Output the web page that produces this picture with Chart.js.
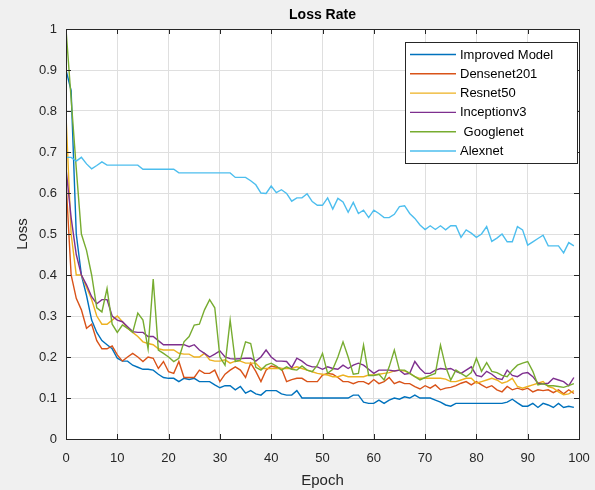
<!DOCTYPE html>
<html>
<head>
<meta charset="utf-8">
<script src="https://cdn.jsdelivr.net/npm/chart.js@4/dist/chart.umd.min.js"></script>
<style>
html,body{margin:0;padding:0;background:#f0f0f0;}
canvas{display:block;}
</style>
</head>
<body>
<canvas id="c" width="595" height="490"></canvas>
<script>
const epochs = Array.from({length: 100}, (_, i) => i);
const seriesNames = ['Improved Model', 'Densenet201', 'Resnet50', 'Inceptionv3', ' Googlenet', 'Alexnet'];
const seriesColors = ['#0072BD', '#D95319', '#EDB120', '#7E2F8E', '#77AC30', '#4DBEEE'];

const improvedModel = [
0.90,0.85,0.50,0.40,0.35,0.29,0.26,0.24,0.23,0.22,
0.197,0.19,0.19,0.18,0.175,0.17,0.17,0.168,0.158,0.15,
0.148,0.148,0.14,0.148,0.145,0.148,0.14,0.14,0.14,0.132,
0.125,0.13,0.13,0.12,0.128,0.112,0.118,0.11,0.107,0.118,
0.118,0.118,0.11,0.107,0.107,0.118,0.10,0.10,0.10,0.10,
0.10,0.10,0.10,0.10,0.10,0.10,0.107,0.107,0.09,0.087,
0.087,0.095,0.087,0.095,0.10,0.097,0.103,0.10,0.107,0.10,
0.10,0.10,0.095,0.09,0.083,0.08,0.087,0.087,0.087,0.087,
0.087,0.087,0.087,0.087,0.087,0.087,0.09,0.097,0.088,0.08,
0.08,0.087,0.077,0.087,0.083,0.077,0.087,0.077,0.08,0.077];

const densenet201 = [
0.63,0.40,0.343,0.315,0.27,0.28,0.24,0.22,0.22,0.227,
0.205,0.19,0.20,0.209,0.20,0.189,0.20,0.197,0.172,0.189,
0.164,0.16,0.189,0.15,0.15,0.15,0.168,0.16,0.16,0.168,
0.14,0.158,0.168,0.176,0.168,0.15,0.185,0.165,0.14,0.168,
0.178,0.175,0.172,0.14,0.145,0.148,0.148,0.14,0.14,0.14,
0.156,0.16,0.158,0.15,0.14,0.14,0.135,0.14,0.14,0.134,
0.145,0.135,0.14,0.15,0.135,0.14,0.135,0.135,0.128,0.122,
0.13,0.124,0.132,0.12,0.124,0.126,0.13,0.136,0.14,0.132,
0.14,0.132,0.125,0.13,0.12,0.115,0.128,0.12,0.124,0.12,
0.124,0.115,0.12,0.118,0.12,0.113,0.12,0.11,0.12,0.111];

const resnet50 = [
0.79,0.50,0.40,0.40,0.37,0.34,0.30,0.28,0.28,0.29,
0.30,0.286,0.27,0.26,0.25,0.237,0.233,0.23,0.22,0.217,
0.217,0.217,0.209,0.207,0.207,0.20,0.20,0.209,0.193,0.19,
0.19,0.193,0.185,0.19,0.19,0.185,0.185,0.185,0.172,0.172,
0.172,0.172,0.172,0.172,0.172,0.176,0.172,0.168,0.164,0.16,
0.158,0.156,0.152,0.152,0.156,0.152,0.152,0.152,0.152,0.156,
0.156,0.158,0.16,0.162,0.166,0.168,0.166,0.16,0.152,0.148,
0.148,0.148,0.148,0.148,0.146,0.14,0.14,0.144,0.148,0.148,
0.136,0.14,0.144,0.148,0.144,0.136,0.14,0.148,0.128,0.124,
0.128,0.132,0.136,0.14,0.128,0.124,0.115,0.108,0.11,0.118];

const inceptionv3 = [
0.66,0.54,0.45,0.40,0.376,0.347,0.33,0.34,0.34,0.30,
0.29,0.286,0.274,0.262,0.26,0.26,0.25,0.25,0.24,0.23,
0.23,0.23,0.23,0.23,0.225,0.23,0.217,0.209,0.20,0.207,
0.215,0.20,0.196,0.195,0.196,0.197,0.197,0.19,0.20,0.217,
0.20,0.19,0.19,0.189,0.174,0.197,0.19,0.18,0.176,0.176,
0.17,0.176,0.172,0.17,0.18,0.172,0.18,0.185,0.18,0.17,
0.16,0.168,0.168,0.168,0.166,0.168,0.158,0.16,0.189,0.172,
0.16,0.16,0.168,0.172,0.17,0.172,0.165,0.16,0.168,0.176,
0.155,0.152,0.165,0.158,0.148,0.145,0.168,0.155,0.152,0.16,
0.162,0.152,0.136,0.134,0.136,0.148,0.144,0.14,0.13,0.15];

const googlenet = [
1.00,0.83,0.66,0.50,0.46,0.40,0.32,0.31,0.367,0.28,
0.26,0.278,0.27,0.26,0.307,0.29,0.22,0.39,0.217,0.209,
0.20,0.189,0.197,0.237,0.25,0.278,0.28,0.315,0.34,0.32,
0.20,0.18,0.29,0.189,0.193,0.237,0.233,0.175,0.168,0.18,
0.185,0.178,0.168,0.176,0.17,0.168,0.178,0.168,0.164,0.18,
0.209,0.16,0.17,0.20,0.237,0.20,0.158,0.16,0.229,0.155,
0.155,0.158,0.144,0.176,0.217,0.168,0.168,0.16,0.152,0.144,
0.15,0.155,0.16,0.229,0.176,0.144,0.168,0.16,0.152,0.162,
0.197,0.165,0.186,0.165,0.162,0.155,0.152,0.168,0.18,0.185,
0.189,0.165,0.132,0.135,0.13,0.13,0.128,0.126,0.13,0.135];

const alexnet = [
0.687,0.687,0.678,0.687,0.671,0.659,0.667,0.676,0.668,0.668,
0.668,0.668,0.668,0.668,0.668,0.658,0.658,0.658,0.658,0.658,
0.658,0.658,0.649,0.649,0.649,0.649,0.649,0.649,0.649,0.649,
0.649,0.649,0.649,0.638,0.638,0.638,0.63,0.62,0.60,0.599,
0.617,0.601,0.608,0.599,0.58,0.588,0.588,0.598,0.579,0.57,
0.57,0.588,0.561,0.587,0.578,0.553,0.577,0.55,0.558,0.54,
0.558,0.55,0.54,0.54,0.548,0.567,0.569,0.55,0.538,0.522,
0.511,0.52,0.511,0.52,0.51,0.52,0.52,0.492,0.51,0.502,
0.492,0.50,0.518,0.482,0.49,0.50,0.481,0.481,0.518,0.51,
0.473,0.481,0.489,0.497,0.471,0.471,0.471,0.454,0.479,0.471];

const xTicks = [0,10,20,30,40,50,60,70,80,90,100];
const yTicks = [0,0.1,0.2,0.3,0.4,0.5,0.6,0.7,0.8,0.9,1];
const yTickLabels = ['0','0.1','0.2','0.3','0.4','0.5','0.6','0.7','0.8','0.9','1'];
const titleText = 'Loss Rate';
const xTitle = 'Epoch';
const yTitle = 'Loss';

const allSeries = [improvedModel, densenet201, resnet50, inceptionv3, googlenet, alexnet];
const FONT = '"Liberation Sans", Arial, Helvetica, sans-serif';
const DARK = '#262626';

const datasets = allSeries.map((arr, i) => ({
  label: seriesNames[i],
  data: epochs.map((e, j) => ({x: e, y: arr[j]})),
  borderColor: seriesColors[i],
  backgroundColor: seriesColors[i],
  borderWidth: 1.4,
  pointRadius: 0,
  tension: 0,
  fill: false,
  order: -i
}));

const matlabPlugin = {
  id: 'matlab',
  beforeDraw(chart) {
    const ctx = chart.ctx, a = chart.chartArea;
    ctx.save();
    ctx.fillStyle = '#f0f0f0';
    ctx.fillRect(0, 0, chart.width, chart.height);
    ctx.fillStyle = '#ffffff';
    ctx.fillRect(a.left, a.top, a.right - a.left, a.bottom - a.top);
    ctx.restore();
  },
  afterDraw(chart) {
    const ctx = chart.ctx, a = chart.chartArea;
    const xs = chart.scales.x, ys = chart.scales.y;
    ctx.save();
    ctx.strokeStyle = DARK;
    ctx.lineWidth = 1;
    const tl = 5;
    ctx.beginPath();
    xTicks.forEach(v => {
      const px = Math.round(xs.getPixelForValue(v)) + 0.5;
      ctx.moveTo(px, a.bottom); ctx.lineTo(px, a.bottom - tl);
      ctx.moveTo(px, a.top); ctx.lineTo(px, a.top + tl);
    });
    yTicks.forEach(v => {
      const py = Math.round(ys.getPixelForValue(v)) + 0.5;
      ctx.moveTo(a.left, py); ctx.lineTo(a.left + tl, py);
      ctx.moveTo(a.right, py); ctx.lineTo(a.right - tl, py);
    });
    ctx.stroke();
    ctx.strokeRect(Math.round(a.left) + 0.5, Math.round(a.top) + 0.5,
                   Math.round(a.right - a.left), Math.round(a.bottom - a.top));
    ctx.fillStyle = '#000000';
    ctx.font = 'bold 14px ' + FONT;
    ctx.textAlign = 'center';
    ctx.textBaseline = 'middle';
    ctx.fillText(titleText, (a.left + a.right) / 2, 15);
    ctx.fillStyle = DARK;
    ctx.font = '15px ' + FONT;
    ctx.fillText(xTitle, (a.left + a.right) / 2, 481);
    ctx.save();
    ctx.translate(23, (a.top + a.bottom) / 2);
    ctx.rotate(-Math.PI / 2);
    ctx.fillText(yTitle, 0, 0);
    ctx.restore();
    const lx = 405, ly = 42, lw = 172, lh = 121;
    ctx.fillStyle = '#ffffff';
    ctx.fillRect(lx, ly, lw, lh);
    ctx.strokeStyle = DARK;
    ctx.strokeRect(lx + 0.5, ly + 0.5, lw, lh);
    ctx.font = '13px ' + FONT;
    ctx.textAlign = 'left';
    ctx.textBaseline = 'middle';
    chart.data.datasets.forEach((ds, i) => {
      const ry = ly + 12.5 + i * 19.3;
      ctx.strokeStyle = ds.borderColor;
      ctx.lineWidth = 1.4;
      ctx.beginPath();
      ctx.moveTo(lx + 5, ry); ctx.lineTo(lx + 51, ry);
      ctx.stroke();
      ctx.fillStyle = '#000000';
      ctx.fillText(ds.label, lx + 55, ry + 0.5);
    });
    ctx.restore();
  }
};

new Chart(document.getElementById('c'), {
  type: 'line',
  data: {datasets},
  plugins: [matlabPlugin],
  options: {
    responsive: false,
    animation: false,
    devicePixelRatio: 1,
    layout: {padding: {top: 29, right: 16, left: 0, bottom: 0}},
    plugins: {legend: {display: false}, tooltip: {enabled: false}, title: {display: false}},
    scales: {
      x: {
        type: 'linear', min: 0, max: 100,
        afterFit(s) { s.height = 51; s.paddingLeft = 0; s.paddingRight = 0; },
        afterBuildTicks(s) { s.ticks = xTicks.map(v => ({value: v})); },
        grid: {color: '#dfdfdf', lineWidth: 1, drawTicks: false},
        border: {display: false},
        ticks: {padding: 12, color: DARK, font: {family: FONT, size: 13}, maxRotation: 0, autoSkip: false}
      },
      y: {
        type: 'linear', min: 0, max: 1,
        afterFit(s) { s.width = 66; s.paddingTop = 0; s.paddingBottom = 0; },
        afterBuildTicks(s) { s.ticks = yTicks.map(v => ({value: v})); },
        grid: {color: '#dfdfdf', lineWidth: 1, drawTicks: false},
        border: {display: false},
        ticks: {
          padding: 9, color: DARK, font: {family: FONT, size: 13}, autoSkip: false,
          callback: (v, i) => yTickLabels[i]
        }
      }
    }
  }
});
</script>
</body>
</html>
